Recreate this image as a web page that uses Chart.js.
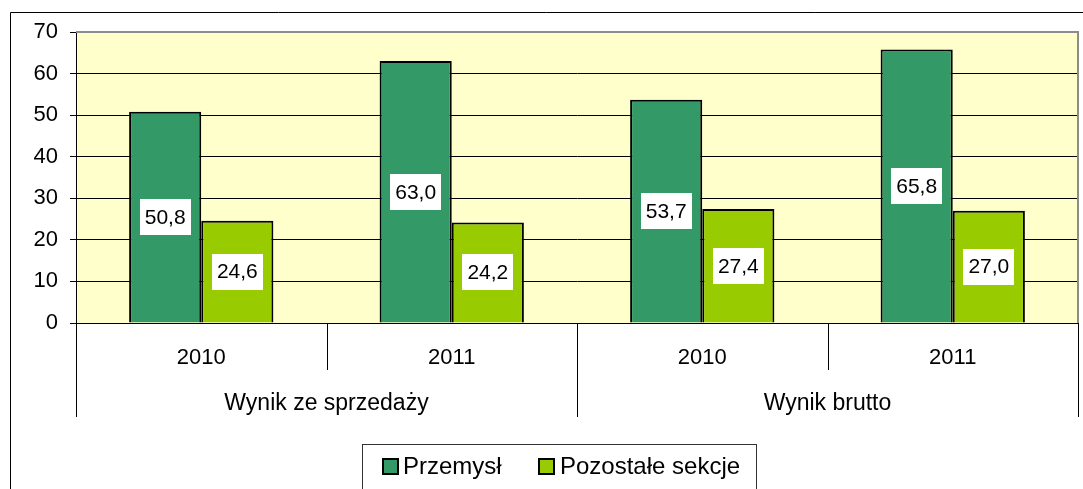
<!DOCTYPE html>
<html>
<head>
<meta charset="utf-8">
<script src="https://cdn.jsdelivr.net/npm/chart.js@4"></script>
<style>
  html, body { margin: 0; padding: 0; background: #fff; }
  #wrap { width: 1083px; height: 489px; position: relative; }
</style>
</head>
<body>
<div id="wrap"><canvas id="c"></canvas></div>
<script>
const YEARS = ["2010", "2011", "2010", "2011"];
const GROUPS = ["Wynik ze sprzedaży", "Wynik brutto"];
const SERIES = ["Przemysł", "Pozostałe sekcje"];
const PRZEMYSL = [50.8, 63.0, 53.7, 65.8];
const POZOSTALE = [24.6, 24.2, 27.4, 27.0];
const Y_TICKS = [0, 10, 20, 30, 40, 50, 60, 70];

const COLORS = ["#339966", "#99cc00"];
const FONT = "'Liberation Sans', Arial, sans-serif";

const frame = {
    id: "frame",
    beforeDraw(chart) {
        const { ctx, chartArea: a } = chart;
        ctx.save();
        ctx.fillStyle = "#ffffcc";
        ctx.fillRect(a.left, a.top, a.right - a.left, a.bottom - a.top);
        ctx.strokeStyle = "#000";
        ctx.lineWidth = 1;
        ctx.beginPath();
        ctx.moveTo(10.5, chart.height);
        ctx.lineTo(10.5, 12.5);
        ctx.lineTo(chart.width, 12.5);
        ctx.stroke();
        ctx.restore();
    },
    afterDraw(chart) {
        const { ctx, chartArea: a } = chart;
        const x = chart.scales.x;
        ctx.save();
        // grey plot border top/right
        ctx.strokeStyle = "#8c8c8c";
        ctx.lineWidth = 2;
        ctx.beginPath();
        ctx.moveTo(a.left, a.top);
        ctx.lineTo(a.right, a.top);
        ctx.lineTo(a.right, a.bottom);
        ctx.stroke();

        // category dividers
        const n = YEARS.length;
        const bounds = [];
        for (let i = 0; i <= n; i++) {
            if (i === 0) bounds.push(a.left);
            else if (i === n) bounds.push(a.right);
            else bounds.push((x.getPixelForTick(i - 1) + x.getPixelForTick(i)) / 2);
        }
        ctx.strokeStyle = "#000";
        ctx.lineWidth = 1;
        bounds.forEach((bx, i) => {
            const long = i % 2 === 0;
            const px = Math.round(bx) + 0.5;
            ctx.beginPath();
            ctx.moveTo(px, a.bottom);
            ctx.lineTo(px, a.bottom + (long ? 94 : 47));
            ctx.stroke();
        });

        // group labels
        ctx.fillStyle = "#000";
        ctx.font = "23px " + FONT;
        ctx.textAlign = "center";
        ctx.textBaseline = "middle";
        GROUPS.forEach((g, i) => {
            const cx = (bounds[i * 2] + bounds[i * 2 + 2]) / 2;
            ctx.fillText(g, cx, a.bottom + 81);
        });

        // value labels
        ctx.font = "21px " + FONT;
        chart.data.datasets.forEach((ds, di) => {
            chart.getDatasetMeta(di).data.forEach((bar, j) => {
                const txt = ds.data[j].toFixed(1).replace(".", ",");
                const cy = (bar.y + bar.base) / 2;
                const w = ctx.measureText(txt).width + 10;
                const h = 36;
                ctx.fillStyle = "#fff";
                ctx.fillRect(Math.round(bar.x - w / 2), Math.round(cy - h / 2), Math.round(w), h);
                ctx.fillStyle = "#000";
                ctx.fillText(txt, bar.x, cy + 1);
            });
        });

        // legend
        const lx = 362, ly = 444;
        ctx.strokeStyle = "#333";
        ctx.lineWidth = 1;
        ctx.strokeRect(lx + 0.5, ly + 0.5, 394, 60);
        ctx.font = "24px " + FONT;
        ctx.textAlign = "left";
        const items = [{ sq: 383, tx: 403 }, { sq: 539, tx: 560 }];
        chart.data.datasets.forEach((ds, di) => {
            const it = items[di];
            ctx.fillStyle = ds.backgroundColor;
            ctx.fillRect(it.sq, 459, 15, 15);
            ctx.strokeStyle = "#000";
            ctx.lineWidth = 2;
            ctx.strokeRect(it.sq, 459, 15, 15);
            ctx.fillStyle = "#000";
            ctx.fillText(ds.label, it.tx, 467);
        });
        ctx.restore();
    },
};

new Chart(document.getElementById("c"), {
    type: "bar",
    data: {
        labels: YEARS,
        datasets: [
            { label: SERIES[0], data: PRZEMYSL, backgroundColor: COLORS[0], borderColor: "#000", borderWidth: 2 },
            { label: SERIES[1], data: POZOSTALE, backgroundColor: COLORS[1], borderColor: "#000", borderWidth: 2 },
        ],
    },
    options: {
        responsive: true, maintainAspectRatio: false, animation: false,
        layout: { padding: { top: 32, right: 5, left: 0, bottom: 0 } },
        datasets: { bar: { categoryPercentage: 0.576, barPercentage: 1 } },
        plugins: { legend: { display: false }, tooltip: { enabled: false } },
        scales: {
            x: {
                grid: { display: false },
                border: { display: true, color: "#000", width: 1 },
                ticks: { color: "#000", font: { family: FONT, size: 22 }, padding: 14, maxRotation: 0 },
                afterFit(s) { s.height = 166; },
            },
            y: {
                min: 0, max: 70,
                afterBuildTicks(s) { s.ticks = Y_TICKS.map(v => ({ value: v })); },
                grid: { color: "#000", tickLength: 6 },
                border: { color: "#000", width: 1 },
                ticks: { color: "#000", font: { family: FONT, size: 22 }, padding: 12 },
                afterFit(s) { s.width = 76; },
            },
        },
    },
    plugins: [frame],
});
</script>
</body>
</html>
